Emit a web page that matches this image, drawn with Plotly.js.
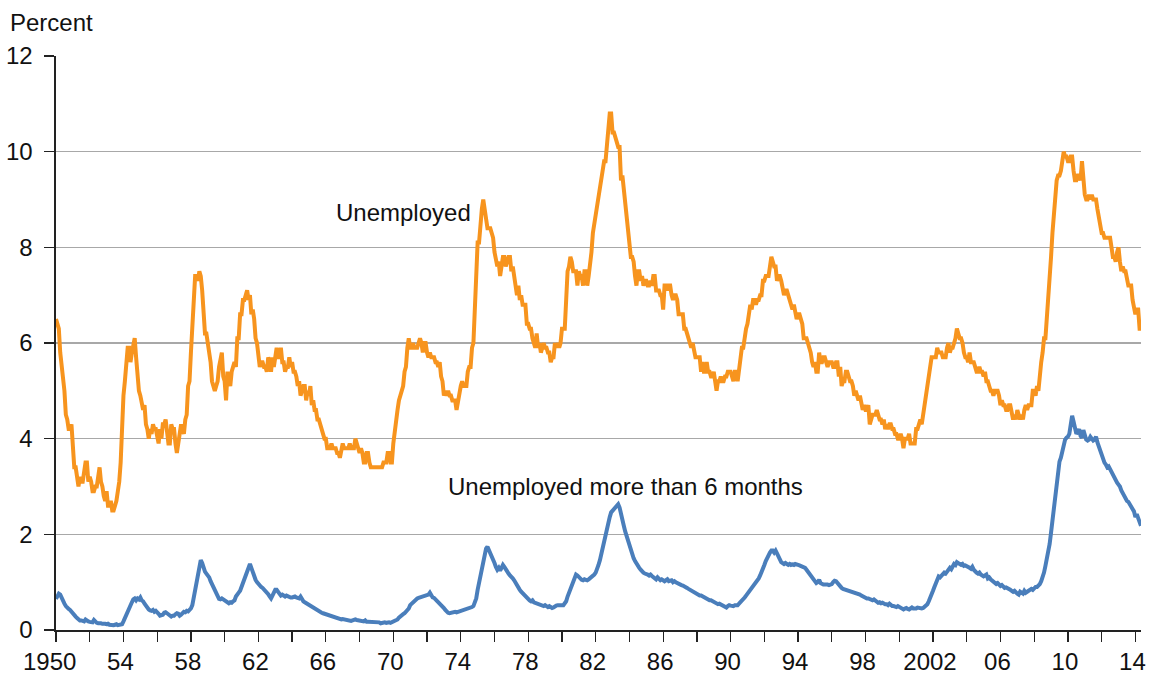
<!DOCTYPE html>
<html>
<head>
<meta charset="utf-8">
<script src="https://cdn.plot.ly/plotly-3.0.1.min.js"></script>
<style>
html,body{margin:0;padding:0;background:#ffffff;}
#chart{width:1149px;height:675px;}
</style>
</head>
<body>
<div id="chart"></div>
<script>
// Monthly series, January 1950 through May 2014 (percent of labor force)
const startYear = 1950;

const unemployed = [
6.5,6.4,6.3,5.8,5.5,5.4,5.0,4.5,4.4,4.2,4.2,4.3,
3.7,3.4,3.4,3.1,3.0,3.2,3.1,3.1,3.3,3.5,3.5,3.1,
3.2,3.1,2.9,2.9,3.0,3.0,3.2,3.4,3.1,3.0,2.8,2.7,
2.9,2.6,2.6,2.7,2.5,2.5,2.6,2.7,2.9,3.1,3.5,4.5,
4.9,5.2,5.7,5.9,5.9,5.6,5.8,6.0,6.1,5.7,5.3,5.0,
4.9,4.7,4.6,4.7,4.3,4.2,4.0,4.2,4.1,4.3,4.2,4.2,
4.0,3.9,4.2,4.0,4.3,4.3,4.4,4.1,3.9,3.9,4.3,4.2,
4.2,3.9,3.7,3.9,4.1,4.3,4.2,4.1,4.4,4.5,5.1,5.2,
5.8,6.4,6.7,7.4,7.4,7.3,7.5,7.4,7.1,6.7,6.2,6.2,
6.0,5.9,5.6,5.2,5.1,5.0,5.1,5.2,5.5,5.7,5.8,5.3,
5.2,4.8,5.4,5.2,5.1,5.4,5.5,5.6,5.5,6.1,6.1,6.6,
6.6,6.9,6.9,7.0,7.1,6.9,7.0,6.6,6.7,6.5,6.1,6.0,
5.8,5.5,5.6,5.6,5.5,5.5,5.4,5.7,5.6,5.4,5.7,5.5,
5.7,5.9,5.7,5.7,5.9,5.6,5.6,5.4,5.5,5.5,5.7,5.5,
5.6,5.4,5.4,5.3,5.1,5.2,4.9,5.0,5.1,5.1,4.8,5.0,
4.9,5.1,4.7,4.8,4.6,4.6,4.4,4.4,4.3,4.2,4.1,4.0,
4.0,3.8,3.8,3.8,3.9,3.8,3.8,3.8,3.7,3.7,3.6,3.8,
3.9,3.8,3.8,3.8,3.8,3.9,3.8,3.8,3.8,4.0,3.9,3.8,
3.7,3.8,3.7,3.5,3.5,3.7,3.7,3.5,3.4,3.4,3.4,3.4,
3.4,3.4,3.4,3.4,3.4,3.5,3.5,3.5,3.7,3.7,3.5,3.5,
3.9,4.2,4.4,4.6,4.8,4.9,5.0,5.1,5.4,5.5,5.9,6.1,
5.9,5.9,6.0,5.9,5.9,5.9,6.0,6.1,6.0,5.8,6.0,6.0,
5.8,5.7,5.8,5.7,5.7,5.7,5.6,5.6,5.5,5.6,5.3,5.2,
4.9,5.0,4.9,5.0,4.9,4.9,4.8,4.8,4.8,4.6,4.8,4.9,
5.1,5.2,5.1,5.1,5.1,5.4,5.5,5.5,5.9,6.0,6.6,7.2,
8.1,8.1,8.6,8.8,9.0,8.8,8.6,8.4,8.4,8.4,8.3,8.2,
7.9,7.7,7.6,7.7,7.4,7.6,7.8,7.8,7.6,7.7,7.8,7.8,
7.5,7.6,7.4,7.2,7.0,7.2,6.9,7.0,6.8,6.8,6.8,6.4,
6.4,6.3,6.3,6.1,6.0,5.9,6.2,5.9,6.0,5.8,5.9,6.0,
5.9,5.9,5.8,5.8,5.6,5.7,5.7,6.0,5.9,6.0,5.9,6.0,
6.3,6.3,6.3,6.9,7.5,7.6,7.8,7.7,7.5,7.5,7.5,7.2,
7.5,7.4,7.4,7.2,7.5,7.5,7.2,7.4,7.6,7.9,8.3,8.5,
8.6,8.9,9.0,9.3,9.4,9.6,9.8,9.8,10.1,10.4,10.8,10.8,
10.4,10.4,10.3,10.2,10.1,10.1,9.4,9.5,9.2,8.8,8.5,8.3,
8.0,7.8,7.8,7.7,7.4,7.2,7.5,7.5,7.3,7.4,7.2,7.3,
7.3,7.2,7.2,7.3,7.2,7.4,7.4,7.1,7.1,7.1,7.0,7.0,
6.7,7.2,7.2,7.1,7.2,7.2,7.0,6.9,7.0,7.0,6.9,6.6,
6.6,6.6,6.6,6.3,6.3,6.2,6.1,6.0,5.9,6.0,5.8,5.7,
5.7,5.7,5.7,5.4,5.6,5.4,5.4,5.6,5.4,5.4,5.3,5.3,
5.4,5.2,5.0,5.2,5.2,5.3,5.2,5.2,5.3,5.3,5.4,5.4,
5.4,5.3,5.2,5.4,5.4,5.2,5.5,5.7,5.9,5.9,6.2,6.3,
6.4,6.6,6.8,6.7,6.9,6.9,6.8,6.9,6.9,7.0,7.0,7.3,
7.3,7.4,7.4,7.4,7.6,7.8,7.7,7.6,7.6,7.3,7.4,7.4,
7.3,7.1,7.0,7.1,7.1,7.0,6.9,6.8,6.7,6.8,6.6,6.5,
6.6,6.6,6.5,6.4,6.1,6.1,6.1,6.0,5.9,5.8,5.6,5.5,
5.6,5.4,5.4,5.8,5.6,5.6,5.7,5.7,5.6,5.5,5.6,5.6,
5.6,5.5,5.5,5.6,5.6,5.3,5.5,5.1,5.2,5.2,5.4,5.4,
5.3,5.2,5.2,5.1,4.9,5.0,4.9,4.8,4.9,4.7,4.6,4.7,
4.6,4.6,4.7,4.3,4.4,4.5,4.5,4.5,4.6,4.5,4.4,4.4,
4.3,4.4,4.2,4.3,4.2,4.3,4.3,4.2,4.2,4.1,4.1,4.0,
4.0,4.1,4.0,3.8,4.0,4.0,4.0,4.1,3.9,3.9,3.9,3.9,
4.2,4.2,4.3,4.4,4.3,4.5,4.6,4.9,5.0,5.3,5.5,5.7,
5.7,5.7,5.7,5.9,5.8,5.8,5.8,5.7,5.7,5.7,5.9,6.0,
5.8,5.9,5.9,6.0,6.1,6.3,6.2,6.1,6.1,6.0,5.8,5.7,
5.7,5.6,5.8,5.6,5.6,5.6,5.5,5.4,5.4,5.5,5.4,5.4,
5.3,5.4,5.2,5.2,5.1,5.0,5.0,4.9,5.0,5.0,5.0,4.9,
4.7,4.8,4.7,4.7,4.6,4.6,4.7,4.7,4.5,4.4,4.5,4.4,
4.6,4.5,4.4,4.5,4.4,4.6,4.7,4.6,4.7,4.7,4.7,5.0,
5.0,4.9,5.1,5.0,5.4,5.6,5.8,6.1,6.1,6.5,6.8,7.3,
7.8,8.3,8.7,9.0,9.4,9.5,9.5,9.6,9.8,10.0,9.9,9.9,
9.8,9.8,9.9,9.9,9.6,9.4,9.4,9.5,9.5,9.4,9.8,9.3,
9.1,9.0,9.0,9.1,9.0,9.1,9.0,9.0,9.0,8.8,8.6,8.5,
8.3,8.3,8.2,8.2,8.2,8.2,8.2,8.0,7.8,7.8,7.7,7.9,
8.0,7.7,7.5,7.6,7.5,7.5,7.3,7.2,7.2,7.2,6.9,6.7,
6.6,6.7,6.7,6.3,6.3
];

const longTerm = [
0.65,0.70,0.76,0.74,0.66,0.60,0.55,0.50,0.46,0.44,0.42,0.38,
0.33,0.30,0.28,0.25,0.22,0.20,0.20,0.19,0.18,0.22,0.19,0.18,
0.17,0.16,0.16,0.21,0.17,0.15,0.14,0.15,0.14,0.13,0.14,0.13,
0.12,0.13,0.11,0.10,0.09,0.10,0.11,0.12,0.10,0.10,0.11,0.12,
0.18,0.25,0.33,0.42,0.48,0.52,0.58,0.64,0.66,0.62,0.66,0.64,
0.68,0.62,0.60,0.55,0.50,0.45,0.43,0.41,0.40,0.42,0.38,0.40,
0.38,0.34,0.30,0.30,0.32,0.36,0.37,0.35,0.32,0.30,0.28,0.30,
0.30,0.33,0.35,0.34,0.30,0.32,0.36,0.38,0.37,0.40,0.39,0.42,
0.45,0.52,0.68,0.85,1.00,1.20,1.38,1.46,1.40,1.30,1.22,1.18,
1.14,1.10,1.02,0.95,0.88,0.82,0.74,0.68,0.65,0.64,0.66,0.64,
0.62,0.60,0.58,0.56,0.58,0.57,0.60,0.62,0.70,0.76,0.78,0.82,
0.90,0.98,1.05,1.15,1.25,1.32,1.38,1.30,1.20,1.12,1.05,1.00,
0.96,0.93,0.90,0.88,0.85,0.82,0.80,0.75,0.70,0.66,0.72,0.80,
0.84,0.84,0.80,0.74,0.72,0.74,0.72,0.70,0.72,0.70,0.70,0.68,
0.68,0.69,0.70,0.68,0.66,0.66,0.70,0.64,0.60,0.58,0.56,0.54,
0.52,0.51,0.48,0.46,0.46,0.44,0.42,0.40,0.38,0.36,0.35,0.34,
0.32,0.30,0.30,0.28,0.27,0.26,0.25,0.25,0.24,0.22,0.22,0.22,
0.23,0.22,0.22,0.21,0.20,0.18,0.19,0.20,0.22,0.22,0.21,0.20,
0.20,0.19,0.18,0.18,0.20,0.17,0.17,0.17,0.16,0.16,0.16,0.15,
0.15,0.15,0.16,0.14,0.15,0.15,0.16,0.15,0.16,0.16,0.15,0.16,
0.18,0.20,0.20,0.22,0.26,0.29,0.30,0.33,0.35,0.38,0.42,0.45,
0.52,0.55,0.58,0.60,0.64,0.66,0.67,0.68,0.67,0.70,0.71,0.72,
0.72,0.74,0.78,0.72,0.68,0.67,0.64,0.62,0.60,0.56,0.54,0.50,
0.46,0.42,0.38,0.36,0.35,0.36,0.38,0.37,0.38,0.37,0.38,0.38,
0.40,0.40,0.41,0.42,0.42,0.43,0.44,0.46,0.48,0.50,0.58,0.66,
0.84,0.98,1.12,1.30,1.46,1.60,1.70,1.74,1.68,1.62,1.56,1.50,
1.40,1.32,1.26,1.30,1.24,1.30,1.36,1.32,1.26,1.22,1.18,1.14,
1.12,1.08,1.04,0.98,0.94,0.88,0.84,0.80,0.77,0.74,0.70,0.66,
0.64,0.62,0.60,0.62,0.58,0.57,0.56,0.55,0.53,0.54,0.52,0.50,
0.52,0.50,0.48,0.50,0.47,0.46,0.47,0.50,0.51,0.52,0.52,0.52,
0.50,0.52,0.56,0.60,0.70,0.78,0.88,0.95,1.02,1.10,1.16,1.14,
1.10,1.06,1.05,1.04,1.06,1.05,1.04,1.06,1.08,1.10,1.14,1.16,
1.20,1.26,1.36,1.46,1.60,1.74,1.86,1.96,2.10,2.22,2.36,2.46,
2.50,2.54,2.58,2.60,2.63,2.56,2.40,2.30,2.18,2.06,1.96,1.86,
1.76,1.66,1.58,1.50,1.44,1.38,1.34,1.30,1.26,1.22,1.20,1.18,
1.18,1.16,1.14,1.16,1.13,1.10,1.08,1.06,1.10,1.08,1.04,1.06,
1.05,1.02,1.04,1.06,1.02,1.03,1.04,1.00,1.02,1.00,0.98,0.96,
0.96,0.94,0.93,0.92,0.90,0.88,0.86,0.84,0.82,0.80,0.80,0.78,
0.76,0.74,0.72,0.72,0.70,0.68,0.68,0.66,0.64,0.62,0.62,0.60,
0.60,0.58,0.56,0.54,0.55,0.53,0.52,0.50,0.48,0.47,0.50,0.52,
0.51,0.50,0.50,0.52,0.51,0.52,0.55,0.58,0.60,0.64,0.68,0.72,
0.76,0.80,0.84,0.88,0.92,0.96,1.00,1.02,1.08,1.14,1.20,1.28,
1.36,1.44,1.52,1.60,1.62,1.66,1.66,1.62,1.66,1.60,1.52,1.46,
1.42,1.40,1.38,1.40,1.38,1.36,1.38,1.36,1.37,1.36,1.38,1.36,
1.36,1.35,1.34,1.34,1.32,1.30,1.26,1.22,1.18,1.15,1.12,1.08,
1.02,0.98,1.00,1.05,0.98,0.96,0.95,0.95,0.96,0.95,0.94,0.95,
0.96,1.00,1.03,1.02,0.98,0.94,0.90,0.88,0.86,0.85,0.84,0.84,
0.82,0.81,0.80,0.80,0.78,0.78,0.76,0.77,0.74,0.72,0.70,0.70,
0.68,0.66,0.66,0.65,0.63,0.62,0.64,0.62,0.58,0.57,0.58,0.56,
0.57,0.55,0.54,0.54,0.52,0.55,0.52,0.50,0.50,0.49,0.48,0.50,
0.48,0.46,0.44,0.43,0.45,0.46,0.44,0.43,0.45,0.47,0.45,0.44,
0.45,0.47,0.46,0.47,0.45,0.46,0.48,0.50,0.54,0.60,0.66,0.72,
0.82,0.90,0.96,1.06,1.12,1.10,1.14,1.16,1.20,1.18,1.22,1.26,
1.30,1.27,1.32,1.38,1.36,1.42,1.40,1.38,1.36,1.38,1.34,1.35,
1.34,1.32,1.30,1.28,1.32,1.26,1.22,1.20,1.18,1.20,1.16,1.14,
1.12,1.14,1.16,1.08,1.10,1.06,1.04,1.02,0.98,0.96,0.98,0.94,
0.92,0.94,0.90,0.88,0.89,0.88,0.86,0.84,0.82,0.80,0.82,0.78,
0.76,0.74,0.80,0.78,0.76,0.82,0.78,0.80,0.82,0.84,0.86,0.84,
0.88,0.90,0.90,0.92,0.96,1.02,1.10,1.20,1.34,1.48,1.62,1.80,
2.04,2.30,2.56,2.82,3.10,3.38,3.52,3.60,3.76,3.92,3.98,4.02,
4.04,4.10,4.26,4.48,4.36,4.22,4.10,4.14,4.20,4.06,4.02,4.18,
4.06,3.98,3.96,3.98,4.04,3.98,3.96,3.98,4.04,3.92,3.84,3.72,
3.62,3.58,3.50,3.46,3.40,3.42,3.36,3.28,3.22,3.18,3.12,3.08,
3.04,3.00,2.92,2.86,2.82,2.76,2.70,2.68,2.62,2.60,2.52,2.48,
2.36,2.42,2.34,2.24,2.18
];

const seriesNames = ["Unemployed", "Unemployed more than 6 months"];
const yTickVals = [0, 2, 4, 6, 8, 10, 12];
const xTickYears = [1950,1952,1954,1956,1958,1960,1962,1964,1966,1968,1970,1972,1974,1976,1978,1980,
                    1982,1984,1986,1988,1990,1992,1994,1996,1998,2000,2002,2004,2006,2008,2010,2012,2014];
const xTickLabels = ["1950\u00a0","","54","","58","","62","","66","","70","","74","","78","",
                     "82","","86","","90","","94","","98","","2002","","06","","10","","14"];

const months = unemployed.map((_, i) => startYear + i / 12);

const FONT = "Liberation Sans, Arial, Helvetica, sans-serif";
const FS = 24;

const traces = [
  {x: months, y: unemployed, type: "scatter", mode: "lines", name: seriesNames[0],
   line: {color: "#F7941E", width: 4}},
  {x: months, y: longTerm, type: "scatter", mode: "lines", name: seriesNames[1],
   line: {color: "#4A7EBB", width: 4}}
];

const L = 56, R = 1141, T = 56, B = 630;
function px(x){ return (x - L) / (R - L); }
function py(y){ return (B - y) / (B - T); }

const layout = {
  width: 1149, height: 675,
  margin: {l: L, r: 1149 - R, t: T, b: 675 - B, pad: 0},
  paper_bgcolor: "#ffffff", plot_bgcolor: "#ffffff",
  showlegend: false,
  font: {family: FONT, size: FS, color: "#111111"},
  xaxis: {
    range: [1950, months[months.length - 1]],
    tickmode: "array", tickvals: xTickYears, ticktext: xTickLabels,
    ticks: "outside", ticklen: 10, tickwidth: 1.3, tickcolor: "#222222",
    showgrid: false, zeroline: false,
    showline: true, linecolor: "#222222", linewidth: 1.6,
    tickfont: {family: FONT, size: FS, color: "#111111"},
    ticklabelshift: -3, ticklabelstandoff: 0,
    fixedrange: true
  },
  yaxis: {
    range: [0, 12],
    tickmode: "array", tickvals: yTickVals,
    ticks: "outside", ticklen: 10, tickwidth: 1.3, tickcolor: "#222222",
    showgrid: true, gridcolor: "#a8a8a8", gridwidth: 1.2,
    zeroline: false,
    showline: true, linecolor: "#222222", linewidth: 1.6,
    tickfont: {family: FONT, size: FS, color: "#111111"},
    ticklabelstandoff: 7,
    fixedrange: true
  },
  annotations: [
    {text: "Percent", xref: "paper", yref: "paper", x: px(8), y: py(22),
     xanchor: "left", yanchor: "middle", showarrow: false,
     font: {family: FONT, size: FS, color: "#111111"}},
    {text: seriesNames[0], xref: "paper", yref: "paper", x: px(334), y: py(212),
     xanchor: "left", yanchor: "middle", showarrow: false,
     font: {family: FONT, size: FS, color: "#111111"}},
    {text: seriesNames[1], xref: "paper", yref: "paper", x: px(446), y: py(486),
     xanchor: "left", yanchor: "middle", showarrow: false,
     font: {family: FONT, size: FS, color: "#111111"}}
  ]
};

Plotly.newPlot("chart", traces, layout, {displayModeBar: false, staticPlot: true});
</script>
</body>
</html>
